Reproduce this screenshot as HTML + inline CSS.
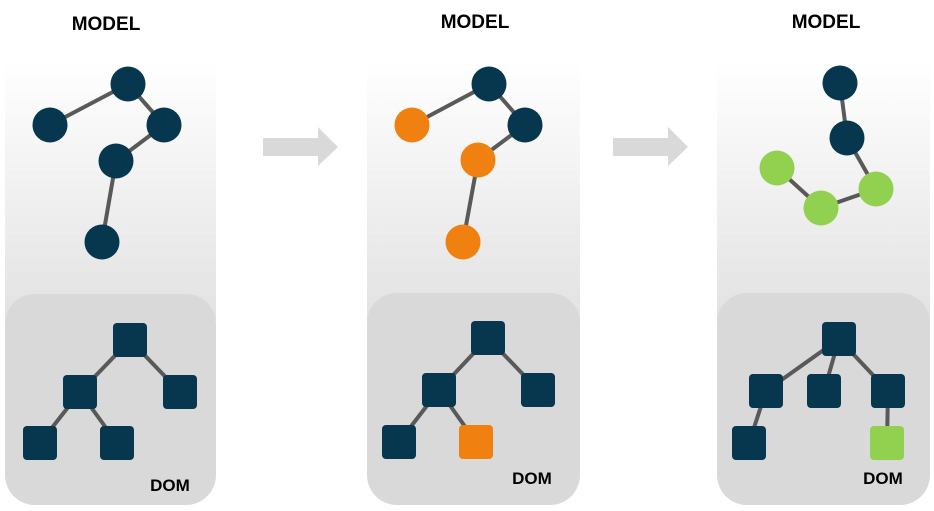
<!DOCTYPE html>
<html><head><style>body{margin:0;background:#fff}</style></head><body>
<svg width="934" height="511" xmlns="http://www.w3.org/2000/svg" style="display:block">
<defs>
<linearGradient id="g" x1="0" y1="0" x2="0" y2="1">
<stop offset="0" stop-color="#fff"/><stop offset="1" stop-color="#e2e2e2"/>
</linearGradient>
</defs>
<g font-family="Liberation Sans, sans-serif" font-weight="bold" fill="#000">
<text x="106" y="30" font-size="19" text-anchor="middle">MODEL</text>
<text x="475" y="28" font-size="19" text-anchor="middle">MODEL</text>
<text x="826" y="28" font-size="19" text-anchor="middle">MODEL</text>
</g>
<rect x="5" y="60" width="211" height="260" fill="url(#g)"/>
<rect x="367" y="60" width="213" height="260" fill="url(#g)"/>
<rect x="717" y="60" width="213" height="260" fill="url(#g)"/>
<rect x="5" y="294" width="211" height="211" rx="30" fill="#d9d9d9"/>
<rect x="367" y="293" width="213" height="212" rx="30" fill="#d9d9d9"/>
<rect x="717" y="293" width="213" height="212" rx="30" fill="#d9d9d9"/>
<polygon points="263,138 318,138 318,127 338,147 318,166 318,156 263,156" fill="#d9d9d9"/>
<polygon points="613,138 668,138 668,127 688,147 668,166 668,156 613,156" fill="#d9d9d9"/>
<g stroke="#595959" stroke-width="4">
<line x1="128" y1="84" x2="50" y2="125"/><line x1="128" y1="84" x2="164" y2="125"/><line x1="164" y1="125" x2="116" y2="161"/><line x1="116" y1="161" x2="102" y2="242"/>
<line x1="130" y1="340" x2="80" y2="392"/><line x1="130" y1="340" x2="180" y2="392"/><line x1="80" y1="392" x2="40" y2="443"/><line x1="80" y1="392" x2="117" y2="443"/>
<line x1="489" y1="84" x2="412" y2="125"/><line x1="489" y1="84" x2="525" y2="125"/><line x1="525" y1="125" x2="478" y2="160"/><line x1="478" y1="160" x2="463" y2="242"/>
<line x1="488" y1="338" x2="439" y2="390"/><line x1="488" y1="338" x2="538" y2="390"/><line x1="439" y1="390" x2="399" y2="442"/><line x1="439" y1="390" x2="476" y2="442"/>
<line x1="840" y1="83" x2="847" y2="138"/><line x1="847" y1="138" x2="876" y2="189"/><line x1="876" y1="189" x2="821" y2="208"/><line x1="821" y1="208" x2="777" y2="168"/>
<line x1="839" y1="339" x2="766" y2="391"/><line x1="839" y1="339" x2="824" y2="391"/><line x1="839" y1="339" x2="888" y2="391"/><line x1="766" y1="391" x2="749" y2="443"/><line x1="888" y1="391" x2="887" y2="443"/>
</g>
<g fill="#06374f">
<circle cx="128" cy="84" r="17.5"/><circle cx="50" cy="125" r="17.5"/><circle cx="164" cy="125" r="17.5"/><circle cx="116" cy="161" r="17.5"/><circle cx="102" cy="242" r="17.5"/>
<circle cx="489" cy="84" r="17.5"/><circle cx="525" cy="125" r="17.5"/>
<circle cx="840" cy="83" r="17.5"/><circle cx="847" cy="138" r="17.5"/>
</g>
<g fill="#f0800f">
<circle cx="412" cy="125" r="17.5"/><circle cx="478" cy="160" r="17.5"/><circle cx="463" cy="242" r="17.5"/>
</g>
<g fill="#92d050">
<circle cx="777" cy="168" r="17.5"/><circle cx="821" cy="208" r="17.5"/><circle cx="876" cy="189" r="17.5"/>
</g>
<g fill="#06374f">
<rect x="113" y="323" width="34" height="34" rx="4"/><rect x="63" y="375" width="34" height="34" rx="4"/><rect x="163" y="375" width="34" height="34" rx="4"/><rect x="23" y="426" width="34" height="34" rx="4"/><rect x="100" y="426" width="34" height="34" rx="4"/>
<rect x="471" y="321" width="34" height="34" rx="4"/><rect x="422" y="373" width="34" height="34" rx="4"/><rect x="521" y="373" width="34" height="34" rx="4"/><rect x="382" y="425" width="34" height="34" rx="4"/>
<rect x="822" y="322" width="34" height="34" rx="4"/><rect x="749" y="374" width="34" height="34" rx="4"/><rect x="807" y="374" width="34" height="34" rx="4"/><rect x="871" y="374" width="34" height="34" rx="4"/><rect x="732" y="426" width="34" height="34" rx="4"/>
</g>
<rect x="459" y="425" width="34" height="34" rx="4" fill="#f0800f"/>
<rect x="870" y="426" width="34" height="34" rx="4" fill="#92d050"/>
<g font-family="Liberation Sans, sans-serif" font-weight="bold" font-size="17" fill="#000" text-anchor="middle">
<text x="170" y="491">DOM</text><text x="532" y="484">DOM</text><text x="883" y="484">DOM</text>
</g>
</svg>
</body></html>
